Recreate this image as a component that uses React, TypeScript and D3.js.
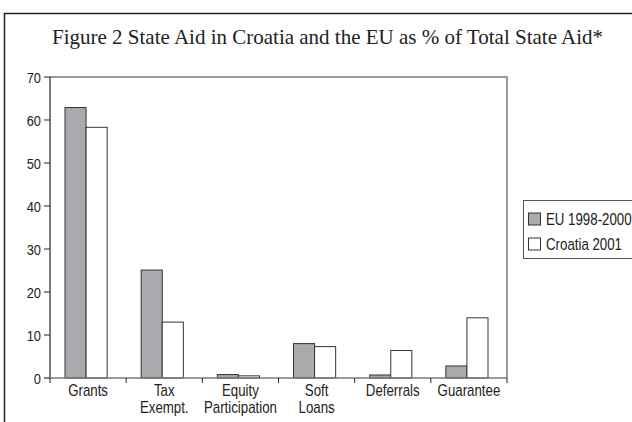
import React from "react";
import * as d3 from "d3";

const categories: string[][] = [["Grants"], ["Tax", "Exempt."], ["Equity", "Participation"], ["Soft", "Loans"], ["Deferrals"], ["Guarantee"]];
const seriesNames = ["EU 1998-2000", "Croatia 2001"];
const euValues = [62.9, 25.1, 0.8, 8.0, 0.7, 2.8];
const croatiaValues = [58.3, 13.0, 0.5, 7.3, 6.4, 14.0];
const yTicks = [0, 10, 20, 30, 40, 50, 60, 70];
const title = "Figure 2 State Aid in Croatia and the EU as % of Total State Aid*";

const sans = "'Liberation Sans', Arial, sans-serif";

function NText({ x, y, anchor = "start", children, size = 15 }: { x: number; y: number; anchor?: string; children: React.ReactNode; size?: number }) {
  return (
    <text transform={`translate(${x},${y}) scale(0.83,1)`} textAnchor={anchor} fontFamily={sans} fontSize={size} fill="#222">
      {children}
    </text>
  );
}

export default function App() {
  const W = 632, H = 422;
  const left = 50, right = 507, top = 77, bottom = 378;
  const x = d3.scaleBand<number>().domain(d3.range(categories.length)).range([left, right]).padding(0);
  const y = d3.scaleLinear().domain([0, 70]).range([bottom, top]);
  const inner = d3.scaleBand<number>().domain([0, 1]).range([15, x.bandwidth() - 19]).padding(0);
  const series = [euValues, croatiaValues];
  const fills = ["#a9aaae", "#ffffff"];
  return (
    <svg width={W} height={H} style={{ position: "absolute", left: 0, top: 0, background: "#fff" }}>
      <rect x={0} y={0} width={W} height={H} fill="#fff" />
      {/* outer frame */}
      <path d={`M4.5,${H}V13.5H${W}`} fill="none" stroke="#222" strokeWidth={1.5} />
      <text x={52} y={44} fontFamily="'Liberation Serif', 'Times New Roman', serif" fontSize={21} fill="#222">{title}</text>
      {/* plot frame */}
      <path d={`M${left},${top}H${right}V${bottom}`} fill="none" stroke="#7a7a7a" strokeWidth={1.5} />
      {/* bars */}
      {series.map((vals, si) =>
        vals.map((v, i) => (
          <rect key={`${si}-${i}`} x={x(i)! + inner(si)!} y={y(v)} width={inner.bandwidth()} height={bottom - y(v)}
            fill={fills[si]} stroke="#333" strokeWidth={1} />
        ))
      )}
      {/* y axis */}
      <line x1={left} x2={left} y1={top} y2={bottom} stroke="#222" strokeWidth={1.2} />
      {yTicks.map((t) => (
        <g key={t}>
          <line x1={left - 6} x2={left} y1={y(t)} y2={y(t)} stroke="#222" strokeWidth={1} />
          <NText x={left - 9} y={y(t) + 5.5} anchor="end" size={15.5}>{t}</NText>
        </g>
      ))}
      {/* x axis */}
      <line x1={left - 6} x2={right} y1={bottom} y2={bottom} stroke="#7a7a7a" strokeWidth={1.5} />
      {d3.range(categories.length + 1).map((i) => {
        const xx = i < categories.length ? x(i)! : right;
        return <line key={i} x1={xx} x2={xx} y1={bottom} y2={bottom + 5} stroke="#222" strokeWidth={1} />;
      })}
      {categories.map((lines, i) =>
        lines.map((l, j) => (
          <NText key={`${i}-${j}`} x={x(i)! + x.bandwidth() / 2} y={396 + j * 17} anchor="middle" size={16}>{l}</NText>
        ))
      )}
      {/* legend */}
      <rect x={523.5} y={200.5} width={120} height={58} fill="#fff" stroke="#555" strokeWidth={1} />
      {seriesNames.map((n, i) => (
        <g key={n}>
          <rect x={528.5} y={213 + i * 25} width={12} height={12} fill={fills[i]} stroke="#333" strokeWidth={1} />
          <NText x={546} y={224.5 + i * 25} size={16}>{n}</NText>
        </g>
      ))}
    </svg>
  );
}
